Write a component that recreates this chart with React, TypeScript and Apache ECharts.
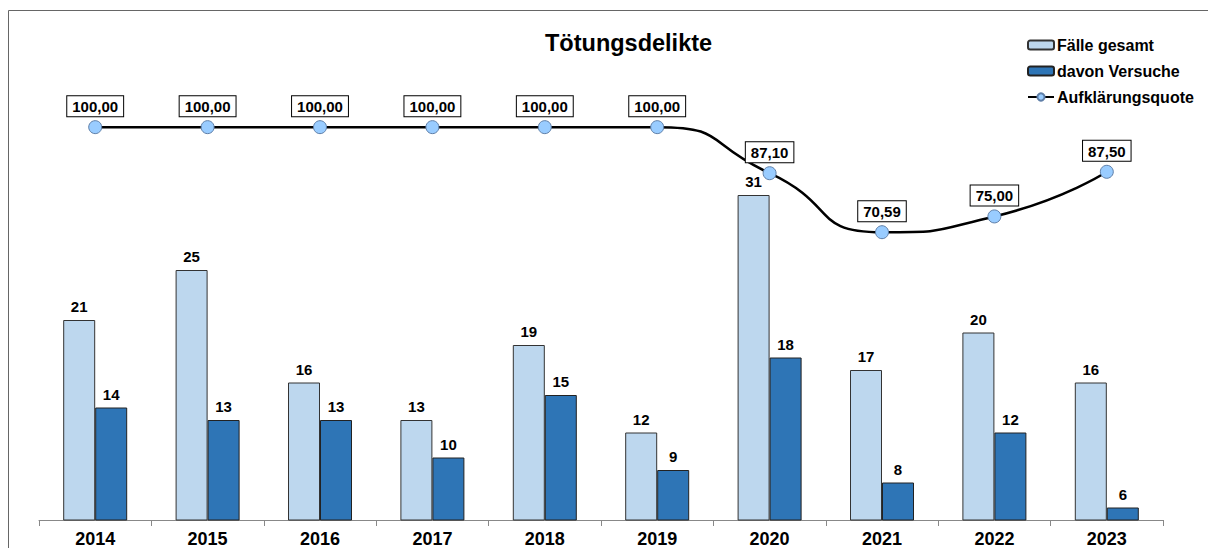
import React, { useEffect, useRef } from "react";
import * as echarts from "echarts";

const years = ["2014", "2015", "2016", "2017", "2018", "2019", "2020", "2021", "2022", "2023"];
const faelleGesamt = [21, 25, 16, 13, 19, 12, 31, 17, 20, 16];
const davonVersuche = [14, 13, 13, 10, 15, 9, 18, 8, 12, 6];
const aufklaerungsquote = [100, 100, 100, 100, 100, 100, 87.1, 70.59, 75, 87.5];

const FONT = 'Arial, "Liberation Sans", sans-serif';

export default function App() {
  const ref = useRef<HTMLDivElement>(null);
  useEffect(() => {
    if (!ref.current) return;
    const chart = echarts.init(ref.current, undefined, { renderer: "svg" });
    chart.setOption({
      animation: false,
      backgroundColor: "#ffffff",
      textStyle: { fontFamily: FONT },
      title: {
        text: "Tötungsdelikte",
        left: 545,
        top: 31,
        padding: 0,
        textStyle: { fontSize: 23.5, fontWeight: "bold", color: "#000", fontFamily: FONT },
      },
      legend: {
        orient: "vertical",
        left: 1027,
        top: 37,
        padding: 0,
        itemWidth: 26,
        itemHeight: 9,
        itemGap: 10,
        textStyle: { fontSize: 16, fontWeight: "bold", color: "#000", fontFamily: FONT, padding: [0, 0, 0, -2] },
        data: ["Fälle gesamt", "davon Versuche", "Aufklärungsquote"],
      },
      graphic: [
        {
          type: "rect",
          shape: { x: 8.5, y: 10.5, width: 1400, height: 800 },
          style: { fill: "none", stroke: "#666", lineWidth: 1 },
          silent: true,
          z: -1,
        },
      ],
      grid: { left: 39, right: 45, top: 20, bottom: 28 },
      xAxis: {
        type: "category",
        data: years,
        axisLine: { onZero: false, lineStyle: { color: "#888", width: 1 } },
        axisTick: { show: true, length: 6, lineStyle: { color: "#888" } },
        axisLabel: { fontSize: 18, fontWeight: "bold", color: "#000", margin: 10, fontFamily: FONT },
      },
      yAxis: [
        { type: "value", min: 5, max: 45, show: false, splitLine: { show: false } },
        { type: "value", min: -10, max: 130, show: false, splitLine: { show: false } },
      ],
      series: [
        {
          name: "Fälle gesamt",
          type: "bar",
          data: faelleGesamt,
          barWidth: 32,
          barGap: "0%",
          itemStyle: { color: "#BDD7EE", borderColor: "#333", borderWidth: 1 },
          label: {
            show: true,
            position: "top",
            distance: 6,
            fontSize: 15,
            fontWeight: "bold",
            color: "#000",
            fontFamily: FONT,
          },
        },
        {
          name: "davon Versuche",
          type: "bar",
          data: davonVersuche,
          barWidth: 32,
          barGap: "0%",
          itemStyle: { color: "#2E75B6", borderColor: "#222", borderWidth: 1 },
          label: {
            show: true,
            position: "top",
            distance: 6,
            fontSize: 15,
            fontWeight: "bold",
            color: "#000",
            fontFamily: FONT,
          },
        },
        {
          name: "Aufklärungsquote",
          type: "line",
          yAxisIndex: 1,
          data: aufklaerungsquote,
          smooth: 0.6,
          symbol: "circle",
          symbolSize: 13,
          lineStyle: { color: "#000", width: 2.5 },
          itemStyle: { color: "#99CCFF", borderColor: "#5F7FA8", borderWidth: 1 },
          z: 5,
          label: {
            show: true,
            position: "top",
            distance: 4,
            fontSize: 15,
            fontWeight: "bold",
            color: "#000",
            fontFamily: FONT,
            backgroundColor: "#fff",
            borderColor: "#000",
            borderWidth: 1,
            padding: [3, 5, 2, 5],
            formatter: (p: any) => Number(p.value).toFixed(2).replace(".", ","),
          },
        },
      ],
    });
    return () => chart.dispose();
  }, []);
  return (
    <div
      ref={ref}
      style={{ position: "fixed", left: 0, top: 0, width: 1208, height: 548 }}
    />
  );
}
